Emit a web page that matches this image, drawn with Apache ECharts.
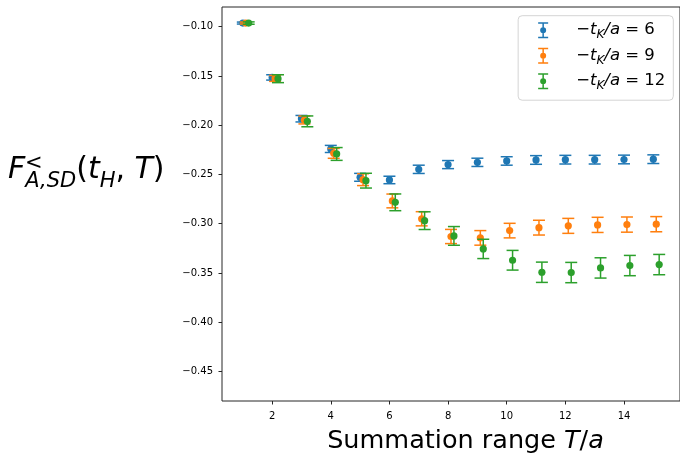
<!DOCTYPE html>
<html><head><meta charset="utf-8">
<script src="https://cdn.jsdelivr.net/npm/echarts@6/dist/echarts.min.js"></script>
<style>html,body{margin:0;padding:0;background:#fff}#c{width:680px;height:457px}</style>
</head><body><div id="c"></div>
<script>
// ---- data ----
const T = [1,2,3,4,5,6,7,8,9,10,11,12,13,14,15];
const xShift = [0, 0.1, 0.2];            // horizontal offset per series (as in original plot)
const tK = ['6','9','12'];
const y6  = [-0.0963,-0.1515,-0.1934,-0.2241,-0.2529,-0.2556,-0.2448,-0.2400,-0.2377,-0.2363,-0.2353,-0.2350,-0.2350,-0.2348,-0.2345];
const e6  = [0.001,0.0027,0.0033,0.0036,0.004,0.0038,0.0042,0.0041,0.0042,0.0043,0.0044,0.0044,0.0044,0.0044,0.0044];
const y9  = [-0.0963,-0.1525,-0.1947,-0.2286,-0.2553,-0.2769,-0.2950,-0.3130,-0.3144,-0.3070,-0.3040,-0.3022,-0.3012,-0.3009,-0.3005];
const e9  = [0.001,0.003,0.004,0.005,0.006,0.007,0.0072,0.0072,0.0074,0.0074,0.0075,0.0076,0.0077,0.0077,0.0077];
const y12 = [-0.0963,-0.1528,-0.1961,-0.2292,-0.2563,-0.2783,-0.2969,-0.3124,-0.3256,-0.3371,-0.3493,-0.3496,-0.3449,-0.3425,-0.3415];
const e12 = [0.0012,0.004,0.0055,0.0065,0.0075,0.0085,0.009,0.0095,0.0098,0.01,0.0103,0.0103,0.0103,0.0103,0.0103];
const xTicks = [2,4,6,8,10,12,14];
const yTicks = [-0.45,-0.40,-0.35,-0.30,-0.25,-0.20,-0.15,-0.10];

const colors = ['#1f77b4','#ff7f0e','#2ca02c'];
const FONT = 'DejaVu Sans';
const ys = [y6, y9, y12], es = [e6, e9, e12];

function renderItem(params, api) {
  const x = api.value(0), y = api.value(1), e = api.value(2);
  const c = api.coord([x, y]);
  const t = api.coord([x, y + e]);
  const b = api.coord([x, y - e]);
  const col = api.visual('color');
  const cw = 6, lw = 1.5;
  return {type:'group', children:[
    {type:'line', shape:{x1:c[0],y1:t[1],x2:c[0],y2:b[1]}, style:{stroke:col,lineWidth:lw}},
    {type:'line', shape:{x1:c[0]-cw,y1:t[1],x2:c[0]+cw,y2:t[1]}, style:{stroke:col,lineWidth:lw}},
    {type:'line', shape:{x1:c[0]-cw,y1:b[1],x2:c[0]+cw,y2:b[1]}, style:{stroke:col,lineWidth:lw}},
    {type:'circle', shape:{cx:c[0],cy:c[1],r:3.6}, style:{fill:col}}
  ]};
}

const series = tK.map((k, i) => ({
  name: '−t_K/a = ' + k,
  type: 'custom',
  renderItem: renderItem,
  itemStyle: {color: colors[i]},
  data: T.map((t, j) => [t + xShift[i], ys[i][j], es[i][j]]),
  z: 2 + i
}));

const fmtY = v => (v < 0 ? '−' : '') + Math.abs(v).toFixed(2);
const iconPath = 'path://M0 0H10V1.5H0Z M0 14.5H10V16H0Z M4.25 0H5.75V16H4.25Z M8 8A3 3 0 1 1 2 8A3 3 0 1 1 8 8Z';

const chart = echarts.init(document.getElementById('c'));
chart.setOption({
  animation: false,
  backgroundColor: '#fff',
  grid: {left: 222, top: 7, bottom: 56, right: -2, show: true, borderColor: '#262626', borderWidth: 1, backgroundColor: 'transparent'},
  xAxis: {
    type: 'value', min: 0.29, max: 15.91,
    axisLine: {show: false},
    splitLine: {show: false},
    axisTick: {show: true, length: 3.5, lineStyle: {color: '#262626', width: 1}, customValues: xTicks},
    axisLabel: {customValues: xTicks, formatter: v => String(v), color: '#000', fontFamily: FONT, fontSize: 10, margin: 10}
  },
  yAxis: {
    type: 'value', min: -0.48, max: -0.08,
    axisLine: {show: false},
    splitLine: {show: false},
    axisTick: {show: true, length: 3.5, lineStyle: {color: '#262626', width: 1}, customValues: yTicks},
    axisLabel: {customValues: yTicks, formatter: fmtY, color: '#000', fontFamily: FONT, fontSize: 10, margin: 9}
  },
  legend: {
    orient: 'vertical', right: 6.7, top: 15.7,
    padding: [6, 8, 8, 20],
    itemGap: 6, itemWidth: 10, itemHeight: 16,
    icon: iconPath,
    borderColor: '#d4d4d4', borderWidth: 1, borderRadius: 4,
    backgroundColor: 'rgba(255,255,255,0.8)',
    formatter: name => {
      const k = name.split('= ')[1];
      return '{sp| }{m|−}{i|t}{s|K}{i|/a}{m| = ' + k + '}';
    },
    textStyle: {
      fontFamily: FONT, fontSize: 16.5, color: '#000',
      rich: {
        sp: {width: 23, fontSize: 16.5, lineHeight: 22, fontFamily: FONT},
        m: {fontSize: 16.5, lineHeight: 22, fontFamily: FONT, color: '#000'},
        i: {fontSize: 16.5, lineHeight: 22, fontFamily: FONT, fontStyle: 'italic', color: '#000'},
        s: {fontSize: 12, lineHeight: 12, fontFamily: FONT, fontStyle: 'italic', verticalAlign: 'bottom', color: '#000'}
      }
    }
  },
  graphic: [
    {type: 'text', x: 8, y: 148, silent: true, style: {
      text: '{i|F}{s|A,SD}{n|(}{i|t}{s|H}{n|, }{i|T}{n|)}',
      align: 'left', verticalAlign: 'top', fill: '#000',
      rich: {
        i: {fontFamily: FONT, fontSize: 30, lineHeight: 44, fontStyle: 'italic', fill: '#000'},
        n: {fontFamily: FONT, fontSize: 30, lineHeight: 44, fill: '#000'},
        s: {fontFamily: FONT, fontSize: 21, lineHeight: 21, fontStyle: 'italic', verticalAlign: 'bottom', fill: '#000'}
      }
    }},
    {type: 'text', x: 25, y: 164, silent: true, style: {
      text: '<', fontFamily: FONT, fontSize: 21, fill: '#000', align: 'left', verticalAlign: 'middle'
    }},
    {type: 'text', x: 465.5, y: 441, silent: true, style: {
      text: '{n|Summation range }{i|T}{n|/}{i|a}',
      align: 'center', verticalAlign: 'middle', fill: '#000',
      rich: {
        n: {fontFamily: FONT, fontSize: 25.5, fill: '#000'},
        i: {fontFamily: FONT, fontSize: 25.5, fontStyle: 'italic', fill: '#000'}
      }
    }}
  ],
  series: series
});
</script>
</body></html>
